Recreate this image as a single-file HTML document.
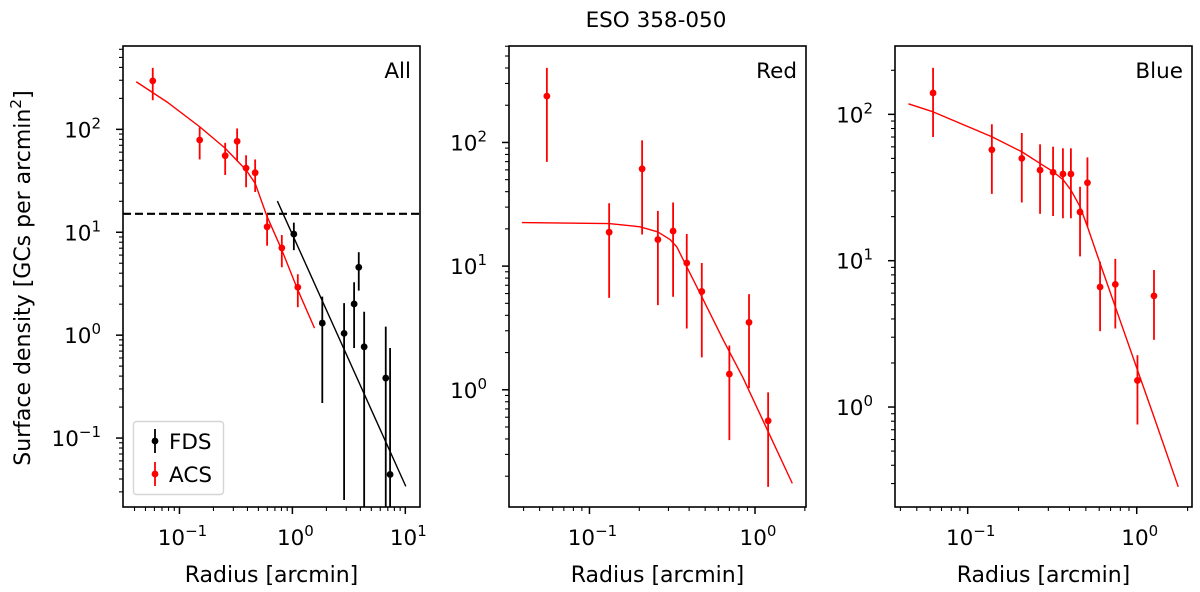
<!DOCTYPE html>
<html><head><meta charset="utf-8">
<style>
html,body{margin:0;padding:0;background:#fff;overflow:hidden;width:1200px;height:592px;}
svg{display:block;font-family:"DejaVu Sans","Liberation Sans",sans-serif;}
</style></head>
<body>
<svg id="chart" width="1200" height="592" viewBox="0 0 1200 592" xmlns="http://www.w3.org/2000/svg">
<text x="656" y="27" font-size="21.5" text-anchor="middle">ESO 358-050</text>
<text transform="translate(30,278) rotate(-90)" font-size="22" text-anchor="middle">Surface density [GCs per arcmin<tspan font-size="15.5" dy="-9">2</tspan><tspan dy="9">]</tspan></text>
</svg>
<script>
// ---- Panel "All": ACS ----
const allAcsR   = [0.058,0.151,0.254,0.324,0.389,0.468,0.597,0.806,1.117];
const allAcsD   = [296,78.8,55.5,76.5,42,37.9,11.3,7.04,2.92];
const allAcsHi  = [396,104.5,74,102,56,51,15.1,9.4,3.91];
const allAcsLo  = [192,51,36,49.5,27.4,24.6,7.4,4.57,1.87];
// ---- Panel "All": FDS ----
const allFdsR   = [1.03,1.84,2.87,3.52,3.87,4.32,6.71,7.33];
const allFdsD   = [9.6,1.31,1.04,2.01,4.57,0.77,0.383,0.0443];
const allFdsHi  = [12.4,2.37,2.05,3.27,6.4,1.69,1.21,0.75];
const allFdsLo  = [6.7,0.219,0.025,0.75,2.71,0.001,0.001,0.001];
// fit curves
const allAcsFitR = [0.0414,0.0773,0.151,0.254,0.389,0.468,0.597,0.806,1.117,1.57];
const allAcsFitD = [290,185,106,65.5,40.3,29.9,14.2,6.73,2.75,1.17];
const allFdsFitR = [0.736,10.1];
const allFdsFitD = [20.1,0.0339];
const allThreshold = 15.1;
// ---- Panel "Red" ----
const redR  = [0.0553,0.1315,0.208,0.259,0.320,0.387,0.477,0.700,0.920,1.20];
const redD  = [237,18.8,61.2,16.4,19.2,10.6,6.24,1.34,3.51,0.561];
const redHi = [401,32.2,104,28,32.7,18.2,10.6,2.28,5.93,0.953];
const redLo = [69.6,5.54,18.0,4.84,5.65,3.13,1.83,0.392,1.03,0.164];
const redFitR = [0.0391,0.1315,0.202,0.259,0.307,0.337,0.387,0.488,0.644,0.849,1.175,1.68];
const redFitD = [22.5,22.1,20.8,18.9,16.4,14.3,9.87,5.31,2.52,1.24,0.488,0.175];
// ---- Panel "Blue" ----
const blueR  = [0.0624,0.139,0.209,0.268,0.320,0.366,0.408,0.462,0.511,0.607,0.747,1.01,1.265];
const blueD  = [140,57.3,50,41.6,40.2,39.1,39.1,21.5,34.1,6.61,6.89,1.52,5.75];
const blueHi = [208,85.5,74.5,62.4,60.1,58.6,58.6,32,50.8,9.84,10.3,2.26,8.63];
const blueLo = [70,28.6,25,20.9,20.2,19.5,19.5,10.7,17.1,3.30,3.44,0.76,2.88];
const blueFitR = [0.0446,0.0624,0.139,0.209,0.268,0.320,0.368,0.408,0.462,0.511,0.607,0.747,1.01,1.265,1.76];
const blueFitD = [118,104,70.3,55.5,46.2,40.6,35.6,30.4,23.4,17.1,9.59,4.84,1.79,0.857,0.285];
// tick labels
const xTickExps = [-1,0,1];
const yTickExps = [-1,0,1,2];

const NS="http://www.w3.org/2000/svg";
const svg=document.getElementById('chart');
function mk(tag,attrs,parent){const e=document.createElementNS(NS,tag);for(const k in attrs)e.setAttribute(k,attrs[k]);(parent||svg).appendChild(e);return e;}

function panel(cfg){
  const g=mk('g',{});
  
  
  const L=cfg.left,R=cfg.right,T=46,B=507;
  const sx=v=>L+(Math.log10(v)-cfg.xmin)/(cfg.xmax-cfg.xmin)*(R-L);
  const sy=v=>B-(Math.log10(v)-cfg.ymin)/(cfg.ymax-cfg.ymin)*(B-T);
  const cid='clip-'+cfg.name;
  const cp=mk('clipPath',{id:cid},g);mk('rect',{x:L,y:T,width:R-L,height:B-T},cp);
  const pg=mk('g',{'clip-path':'url(#'+cid+')'},g);
  for(let e=Math.floor(cfg.xmin);e<=Math.ceil(cfg.xmax);e++){
    for(let m=1;m<10;m++){
      const v=m*Math.pow(10,e);const lv=Math.log10(v);
      if(lv<cfg.xmin-1e-9||lv>cfg.xmax+1e-9)continue;
      const x=sx(v);const len=m===1?7:4;
      const t=mk('line',{x1:x,x2:x,y1:B,y2:B+len,stroke:'#000','stroke-width':m===1?1.5:1.1},g);
      
      
    }
  }
  for(let e=Math.floor(cfg.ymin);e<=Math.ceil(cfg.ymax);e++){
    for(let m=1;m<10;m++){
      const v=m*Math.pow(10,e);const lv=Math.log10(v);
      if(lv<cfg.ymin-1e-9||lv>cfg.ymax+1e-9)continue;
      const y=sy(v);const len=m===1?7:4;
      const t=mk('line',{x1:L-len,x2:L,y1:y,y2:y,stroke:'#000','stroke-width':m===1?1.5:1.1},g);
      
      
    }
  }
  xTickExps.forEach(e=>{
    if(e<cfg.xmin||e>cfg.xmax)return;
    const t=mk('text',{x:sx(Math.pow(10,e))+3,y:545,'font-size':21.5,'text-anchor':'middle'},g);
    
    
    t.appendChild(document.createTextNode('10'));
    const s=mk('tspan',{'font-size':15,dy:-9},t);s.textContent=(e<0?'\u2212':'')+Math.abs(e);
  });
  yTickExps.forEach(e=>{
    if(e<cfg.ymin||e>cfg.ymax)return;
    const t=mk('text',{x:L-22,y:sy(Math.pow(10,e))+8,'font-size':21.5,'text-anchor':'end'},g);
    
    
    t.appendChild(document.createTextNode('10'));
    const s=mk('tspan',{'font-size':15,dy:-9},t);s.textContent=(e<0?'\u2212':'')+Math.abs(e);
  });
  const xl=mk('text',{x:(L+R)/2,y:582,'font-size':22,'text-anchor':'middle'},g);
  
  
  xl.textContent='Radius [arcmin]';
  if(cfg.threshold){
    const d=mk('line',{x1:L,x2:R,y1:sy(cfg.threshold),y2:sy(cfg.threshold),stroke:'#000','stroke-width':2.2,'stroke-dasharray':'8,4'},pg);
    
    
  }
  cfg.fits.forEach(f=>{
    const pts=f.r.map((r,i)=>sx(r).toFixed(2)+','+sy(f.d[i]).toFixed(2)).join(' ');
    const p=mk('polyline',{points:pts,fill:'none',stroke:f.color,'stroke-width':1.4,'stroke-linejoin':'round'},pg);
    
    
  });
  cfg.series.forEach(s=>{
    s.r.forEach((r,i)=>{
      const x=sx(r);
      const eb=mk('line',{x1:x,x2:x,y1:sy(s.hi[i]),y2:sy(s.lo[i]),stroke:s.color,'stroke-width':1.8},pg);
      
      
      const c=mk('circle',{cx:x,cy:sy(s.d[i]),r:3.4,fill:s.color},pg);
      
      
    });
  });
  const fr=mk('rect',{x:L,y:T,width:R-L,height:B-T,fill:'none',stroke:'#000','stroke-width':1.6},g);
  
  
  const lab=mk('text',{x:R-9,y:78,'font-size':21.5,'text-anchor':'end'},g);
  
  
  lab.textContent=cfg.label;
  return g;
}

panel({name:'all',label:'All',left:123,right:420,xmin:-1.50,xmax:1.13,ymin:-1.67,ymax:2.81,threshold:allThreshold,
  fits:[{name:'acs-fit-line',r:allAcsFitR,d:allAcsFitD,color:'#ff0000'},{name:'fds-fit-line',r:allFdsFitR,d:allFdsFitD,color:'#000'}],
  series:[{name:'fds',r:allFdsR,d:allFdsD,hi:allFdsHi,lo:allFdsLo,color:'#000'},{name:'acs',r:allAcsR,d:allAcsD,hi:allAcsHi,lo:allAcsLo,color:'#ff0000'}]});
panel({name:'red',label:'Red',left:509,right:806,xmin:-1.486,xmax:0.308,ymin:-0.948,ymax:2.78,
  fits:[{name:'red-fit-line',r:redFitR,d:redFitD,color:'#ff0000'}],
  series:[{name:'red',r:redR,d:redD,hi:redHi,lo:redLo,color:'#ff0000'}]});
panel({name:'blue',label:'Blue',left:895,right:1192,xmin:-1.43,xmax:0.327,ymin:-0.683,ymax:2.467,
  fits:[{name:'blue-fit-line',r:blueFitR,d:blueFitD,color:'#ff0000'}],
  series:[{name:'blue',r:blueR,d:blueD,hi:blueHi,lo:blueLo,color:'#ff0000'}]});

const lg=mk('g',{});


mk('rect',{x:133.5,y:421.5,width:90,height:73,rx:3,fill:'#fff','fill-opacity':0.8,stroke:'#d6d6d6','stroke-width':1.4},lg);
[['FDS','#000',441],['ACS','#ff0000',474]].forEach(([t,c,y])=>{
  const e=mk('g',{},lg);
  
  
  mk('line',{x1:155,x2:155,y1:y-12,y2:y+12,stroke:c,'stroke-width':1.8},e);
  mk('circle',{cx:155,cy:y,r:3.4,fill:c},e);
  const tx=mk('text',{x:169,y:y+8,'font-size':21.5},e);tx.textContent=t;
});
</script>
</body></html>
